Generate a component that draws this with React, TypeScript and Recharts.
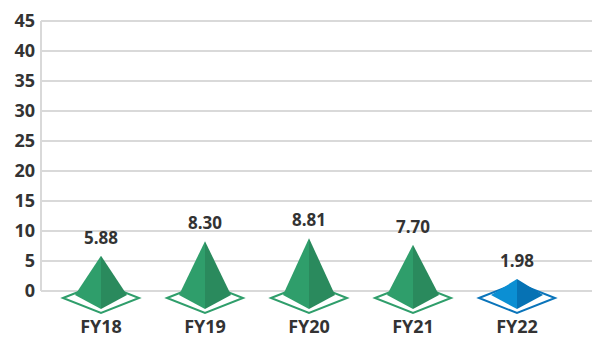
import { BarChart, Bar, XAxis, YAxis, CartesianGrid, LabelList, Cell } from 'recharts'

const years = ['FY18', 'FY19', 'FY20', 'FY21', 'FY22']
const values = [5.88, 8.3, 8.81, 7.7, 1.98]
const yTicks = [0, 5, 10, 15, 20, 25, 30, 35, 40, 45]
// last year is highlighted in blue
const tones = ['green', 'green', 'green', 'green', 'blue']

const palette: Record<string, { left: string; right: string; edge: string }> = {
  green: { left: '#2f9e6b', right: '#2a8a5d', edge: '#2f9e6b' },
  blue: { left: '#0b8fd3', right: '#0672b4', edge: '#0a74ba' },
}

const data = years.map((year, i) => ({ year, value: values[i], tone: tones[i] }))

const FONT = '"Open Sans", "Noto Sans", sans-serif'
const TEXT = '#333333'

function Pyramid(props: any) {
  const { x, y, width, height, tone } = props
  const c = palette[tone] || palette.green
  const cx = x + width / 2
  const base = y + height + 4
  const apex = y
  return (
    <g>
      <polygon
        points={`${cx - 38},${base + 3} ${cx},${base - 12} ${cx + 38},${base + 3} ${cx},${base + 18}`}
        fill="#ffffff"
        stroke={c.edge}
        strokeWidth={2}
      />
      <polygon points={`${cx},${apex} ${cx - 26},${base} ${cx},${base + 14}`} fill={c.left} />
      <polygon points={`${cx},${apex} ${cx},${base + 14} ${cx + 26},${base}`} fill={c.right} />
    </g>
  )
}

function ValueLabel(props: any) {
  const { x, y, width, value } = props
  return (
    <text
      x={x + width / 2}
      y={y - 12}
      textAnchor="middle"
      fill={TEXT}
      fontFamily={FONT}
      fontWeight={700}
      fontSize={17}
    >
      {value.toFixed(2)}
    </text>
  )
}

function YearTick(props: any) {
  const { x, y, payload } = props
  return (
    <text x={x} y={y + 40} textAnchor="middle" fill={TEXT} fontFamily={FONT} fontWeight={700} fontSize={18}>
      {payload.value}
    </text>
  )
}

export default function App() {
  return (
    <div style={{ position: 'absolute', left: 0, top: 0, background: '#fff' }}>
      <BarChart
        width={592}
        height={337}
        data={data}
        margin={{ top: 21, right: 0, bottom: 0, left: 0 }}
        barSize={52}
      >
        <CartesianGrid vertical={false} stroke="#d9d9d9" strokeWidth={2} />
        <XAxis
          dataKey="year"
          height={46}
          axisLine={false}
          tickLine={false}
          tickSize={0}
          padding={{ left: 8, right: 23 }}
          tick={<YearTick />}
          interval={0}
        />
        <YAxis
          width={41}
          domain={[0, 45]}
          ticks={yTicks}
          interval={0}
          axisLine={{ stroke: '#d9d9d9', strokeWidth: 2 }}
          tickLine={false}
          tickSize={0}
          tickMargin={6}
          tick={{ fill: TEXT, fontFamily: FONT, fontWeight: 700, fontSize: 18 }}
        />
        <Bar dataKey="value" shape={<Pyramid />} isAnimationActive={false}>
          {data.map((d) => (
            <Cell key={d.year} tone={d.tone} />
          ))}
          <LabelList dataKey="value" content={<ValueLabel />} />
        </Bar>
      </BarChart>
    </div>
  )
}
